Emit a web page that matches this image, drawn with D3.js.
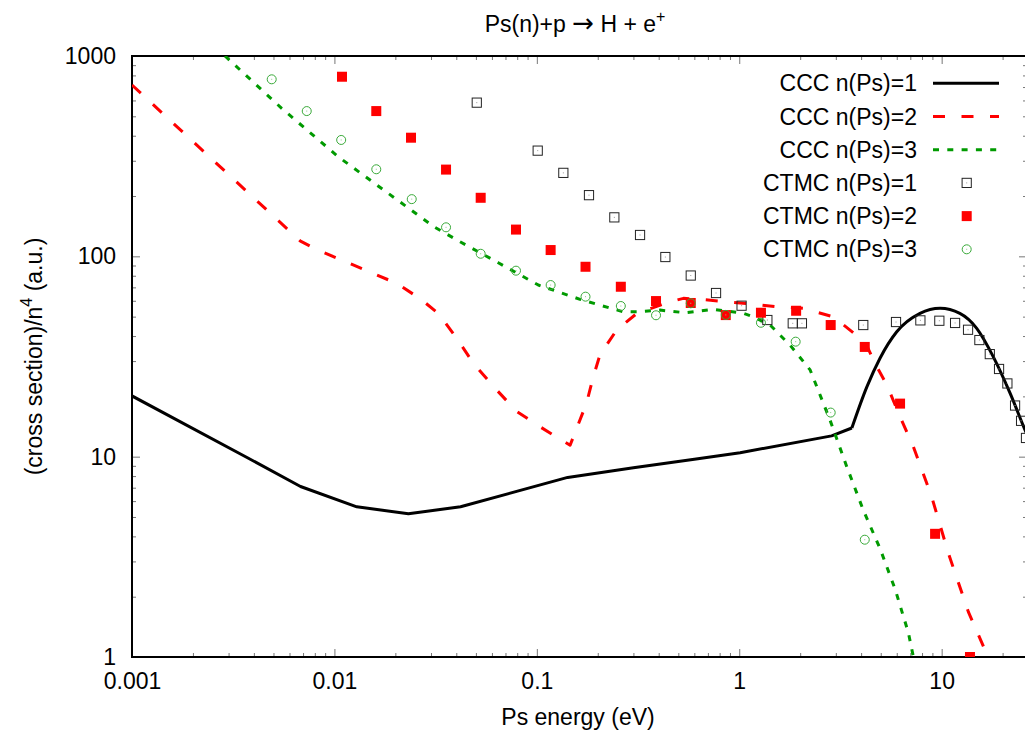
<!DOCTYPE html>
<html>
<head>
<meta charset="utf-8">
<script src="https://cdn.jsdelivr.net/npm/d3@7"></script>
<style>
  body { margin: 0; background: #fff; }
  svg { display: block; font-family: "Liberation Sans", Arial, sans-serif; }
</style>
</head>
<body>
<svg id="chart" width="1025" height="730"></svg>
<script>
// CCC curves (energy in eV, cross section / n^4 in a.u.)
var cccE1 = [0.001, 0.0037, 0.0068, 0.0129, 0.0232, 0.042, 0.142, 0.3, 0.6, 1.01, 2.86, 3.6, 4.27, 4.96, 6.0, 7.82, 9.82, 12.3, 14.9, 18.0, 21.8, 25.8, 27];
var cccS1 = [20.1, 9.9, 7.1, 5.62, 5.19, 5.62, 7.88, 8.8, 9.7, 10.46, 12.7, 13.9, 22.3, 31.0, 42.0, 51.9, 55.0, 51.9, 43.7, 31.5, 20.7, 13.6, 12.2];

var cccE2 = [0.001, 0.0068, 0.0082, 0.0203, 0.0265, 0.0326, 0.0402, 0.0486, 0.0634, 0.0796, 0.1037, 0.146, 0.176, 0.190, 0.205, 0.248, 0.312, 0.455, 0.530, 0.640, 1.044, 1.174, 1.53, 2.07, 2.92, 3.73, 4.27, 4.69, 5.36, 6.23, 7.25, 8.93, 10.8, 13.55, 15.96, 17.7];
var cccS2 = [716, 119, 108, 73.3, 61.5, 51.9, 39.0, 29.2, 21.5, 16.8, 14.1, 11.4, 18.5, 25.0, 32.2, 42.9, 51.9, 59.3, 61.7, 61.0, 58.3, 57.6, 56.0, 55.0, 49.9, 40.9, 35.7, 29.2, 22.8, 15.8, 11.2, 6.3, 3.29, 1.68, 1.15, 0.89];

var cccE3 = [0.00288, 0.00549, 0.01045, 0.0207, 0.031, 0.0417, 0.0645, 0.1017, 0.1635, 0.266, 0.317, 0.406, 0.540, 0.745, 1.048, 1.174, 1.42, 1.78, 2.24, 2.81, 3.40, 4.10, 4.96, 5.89, 6.85, 7.25, 7.41];
var cccS3 = [1000, 548, 314, 189.5, 140.5, 118.3, 92.9, 71.9, 61.0, 52.9, 52.9, 53.9, 52.3, 54.4, 52.0, 49.9, 45.4, 36.1, 27.1, 15.2, 8.9, 5.41, 3.48, 2.18, 1.32, 1.0, 0.89];

// CTMC points
var ctmcE1 = [0.0505, 0.101, 0.1352, 0.181, 0.2415, 0.3235, 0.4315, 0.576, 0.768, 1.027, 1.377, 1.838, 2.04, 4.10, 5.95, 7.85, 9.74, 11.65, 13.5, 15.36, 17.29, 19.21, 21.12, 23.05, 24.68, 26.1];
var ctmcS1 = [585, 337, 261, 202, 156.5, 127.8, 99.2, 80.2, 65.6, 56.7, 48.1, 46.3, 46.3, 45.4, 47.0, 47.9, 47.7, 46.5, 43.0, 38.2, 32.5, 27.4, 23.2, 18.0, 15.1, 12.4];

var ctmcE2 = [0.0109, 0.0161, 0.0239, 0.0356, 0.0528, 0.0789, 0.117, 0.174, 0.260, 0.388, 0.576, 0.858, 1.28, 1.91, 2.83, 4.17, 6.23, 9.28, 13.8];
var ctmcS2 = [788, 531, 391, 271, 196, 136, 107.5, 88.7, 70.5, 59.8, 58.5, 50.9, 52.3, 53.5, 45.4, 35.3, 18.4, 4.12, 1.0];

var ctmcE3 = [0.0049, 0.0073, 0.0108, 0.0161, 0.0241, 0.0356, 0.0528, 0.0789, 0.117, 0.174, 0.260, 0.388, 0.576, 0.858, 1.28, 1.90, 2.83, 4.17];
var ctmcS3 = [765, 531, 381, 272, 193, 139.6, 103, 84.8, 71.9, 62.9, 56.5, 50.8, 58.3, 51.0, 46.6, 37.5, 16.6, 3.85];

var xTicks = [0.001, 0.01, 0.1, 1, 10];
var xTickLabels = ["0.001", "0.01", "0.1", "1", "10"];
var yTicks = [1, 10, 100, 1000];
var yTickLabels = ["1", "10", "100", "1000"];

var legendNames = ["CCC n(Ps)=1", "CCC n(Ps)=2", "CCC n(Ps)=3", "CTMC n(Ps)=1", "CTMC n(Ps)=2", "CTMC n(Ps)=3"];

var svg = d3.select("#chart"),
    margin = {top: 56, right: -2, bottom: 73, left: 132},
    width = +svg.attr("width") - margin.left - margin.right,
    height = +svg.attr("height") - margin.top - margin.bottom,
    g = svg.append("g").attr("transform", "translate(" + margin.left + "," + margin.top + ")");

var x = d3.scaleLog().domain([0.001, 26.4]).range([0, width]);
var y = d3.scaleLog().domain([1, 1000]).range([height, 0]);

// minor tick positions 2..9 per decade
function minors(lo, hi) {
  var out = [];
  for (var p = Math.floor(Math.log10(lo)); p <= Math.ceil(Math.log10(hi)); p++) {
    for (var k = 2; k <= 9; k++) {
      var v = k * Math.pow(10, p);
      if (v > lo && v < hi) out.push(v);
    }
  }
  return out;
}
var xMinor = minors(0.001, 26.4), yMinor = minors(1, 1000);

function styleAxis(sel) {
  sel.select(".domain").remove();
  sel.selectAll(".tick line").attr("stroke", "#777");
  sel.selectAll("text").attr("font-size", 23).attr("fill", "#000")
     .attr("font-family", "'Liberation Sans', Arial, sans-serif");
  sel.attr("font-family", null).attr("font-size", null);
}

// bottom
g.append("g").attr("transform", "translate(0," + height + ")")
    .call(d3.axisBottom(x).tickValues(xTicks).tickFormat(function(d, i) { return xTickLabels[i]; })
      .tickSize(-8).tickPadding(16))
    .call(styleAxis);
g.append("g").attr("transform", "translate(0," + height + ")")
    .call(d3.axisBottom(x).tickValues(xMinor).tickFormat("").tickSize(-4))
    .call(styleAxis);
// top
g.append("g")
    .call(d3.axisTop(x).tickValues(xTicks).tickFormat("").tickSize(-8))
    .call(styleAxis);
g.append("g")
    .call(d3.axisTop(x).tickValues(xMinor).tickFormat("").tickSize(-4))
    .call(styleAxis);
// left
g.append("g")
    .call(d3.axisLeft(y).tickValues(yTicks).tickFormat(function(d, i) { return yTickLabels[i]; })
      .tickSize(-8).tickPadding(16))
    .call(styleAxis);
g.append("g")
    .call(d3.axisLeft(y).tickValues(yMinor).tickFormat("").tickSize(-4))
    .call(styleAxis);
// right
g.append("g").attr("transform", "translate(" + width + ",0)")
    .call(d3.axisRight(y).tickValues(yTicks).tickFormat("").tickSize(-8))
    .call(styleAxis);
g.append("g").attr("transform", "translate(" + width + ",0)")
    .call(d3.axisRight(y).tickValues(yMinor).tickFormat("").tickSize(-4))
    .call(styleAxis);

g.append("rect")
    .attr("width", width).attr("height", height)
    .attr("fill", "none").attr("stroke", "#000").attr("stroke-width", 2);

svg.append("defs").append("clipPath").attr("id", "plotclip")
  .append("rect").attr("width", width).attr("height", height);

var plot = g.append("g").attr("clip-path", "url(#plotclip)");

var line = d3.line()
    .x(function(d) { return x(d[0]); })
    .y(function(d) { return y(d[1]); });
var smoothLine = d3.line()
    .curve(d3.curveMonotoneX)
    .x(function(d) { return x(d[0]); })
    .y(function(d) { return y(d[1]); });

var black = d3.zip(cccE1, cccS1);
var lineStyles = [
  {data: black, color: "#000", dash: null},
  {data: d3.zip(cccE2, cccS2), color: "#ff0000", dash: "12,16.5"},
  {data: d3.zip(cccE3, cccS3), color: "#009a00", dash: "6,8.3"}
];

// n=1: straight segments up to the threshold, smooth through the peak
plot.append("path")
    .datum(black.slice(0, 12))
    .attr("fill", "none").attr("stroke", "#000").attr("stroke-width", 3)
    .attr("stroke-linejoin", "round")
    .attr("d", line);
plot.append("path")
    .datum(black.slice(11))
    .attr("fill", "none").attr("stroke", "#000").attr("stroke-width", 3)
    .attr("stroke-linejoin", "round")
    .attr("d", smoothLine);

lineStyles.slice(1).forEach(function(s) {
  plot.append("path")
      .datum(s.data)
      .attr("fill", "none")
      .attr("stroke", s.color)
      .attr("stroke-width", 3)
      .attr("stroke-dasharray", s.dash)
      .attr("stroke-linejoin", "round")
      .attr("d", line);
});

function squareOpen(sel) {
  sel.append("rect")
      .attr("x", -4.6).attr("y", -4.6).attr("width", 9.2).attr("height", 9.2)
      .attr("fill", "none").attr("stroke", "#222").attr("stroke-width", 1);
  sel.append("rect").attr("x", -0.5).attr("y", -0.5).attr("width", 1).attr("height", 1).attr("fill", "#999");
}
function squareFilled(sel) {
  sel.append("rect")
      .attr("x", -5).attr("y", -5).attr("width", 10).attr("height", 10)
      .attr("fill", "#ff0000");
}
function circleOpen(sel) {
  sel.append("circle").attr("r", 4.5)
      .attr("fill", "none").attr("stroke", "#3aaa3a").attr("stroke-width", 1);
  sel.append("rect").attr("x", -0.5).attr("y", -0.5).attr("width", 1).attr("height", 1).attr("fill", "#8c8");
}

var pointSets = [
  {data: d3.zip(ctmcE1, ctmcS1), draw: squareOpen},
  {data: d3.zip(ctmcE2, ctmcS2), draw: squareFilled},
  {data: d3.zip(ctmcE3, ctmcS3), draw: circleOpen}
];

pointSets.forEach(function(s) {
  plot.append("g").selectAll("g")
      .data(s.data)
    .enter().append("g")
      .attr("transform", function(d) { return "translate(" + x(d[0]) + "," + y(d[1]) + ")"; })
      .each(function() { s.draw(d3.select(this)); });
});

// legend
var legend = svg.append("g");
legendNames.forEach(function(name, i) {
  var yc = 83.3 + i * 33.2;
  legend.append("text")
      .attr("x", 917).attr("y", yc).attr("dy", "0.35em")
      .attr("text-anchor", "end").attr("font-size", 23)
      .text(name);
  if (i < 3) {
    legend.append("line")
        .attr("x1", 933).attr("x2", 999).attr("y1", yc).attr("y2", yc)
        .attr("stroke", lineStyles[i].color).attr("stroke-width", 3)
        .attr("stroke-dasharray", lineStyles[i].dash);
  } else {
    var m = legend.append("g").attr("transform", "translate(966.7," + yc + ")");
    pointSets[i - 3].draw(m);
  }
});

// title
var title = svg.append("text")
    .attr("x", 575).attr("y", 32)
    .attr("text-anchor", "middle").attr("font-size", 23);
title.append("tspan").text("Ps(n)+p ");
title.append("tspan").attr("font-family", "'DejaVu Sans', sans-serif").attr("font-size", 26).text("\u2192");
title.append("tspan").text(" H + e");
title.append("tspan").attr("dy", -10).attr("font-size", 16).text("+");

// axis labels
svg.append("text")
    .attr("x", 578).attr("y", 725)
    .attr("text-anchor", "middle").attr("font-size", 23)
    .text("Ps energy (eV)");

var ylab = svg.append("text")
    .attr("transform", "translate(42," + (margin.top + height / 2) + ") rotate(-90)")
    .attr("text-anchor", "middle").attr("font-size", 23);
ylab.append("tspan").text("(cross section)/n");
ylab.append("tspan").attr("dy", -10).attr("font-size", 16).text("4");
ylab.append("tspan").attr("dy", 10).text(" (a.u.)");
</script>
</body>
</html>
